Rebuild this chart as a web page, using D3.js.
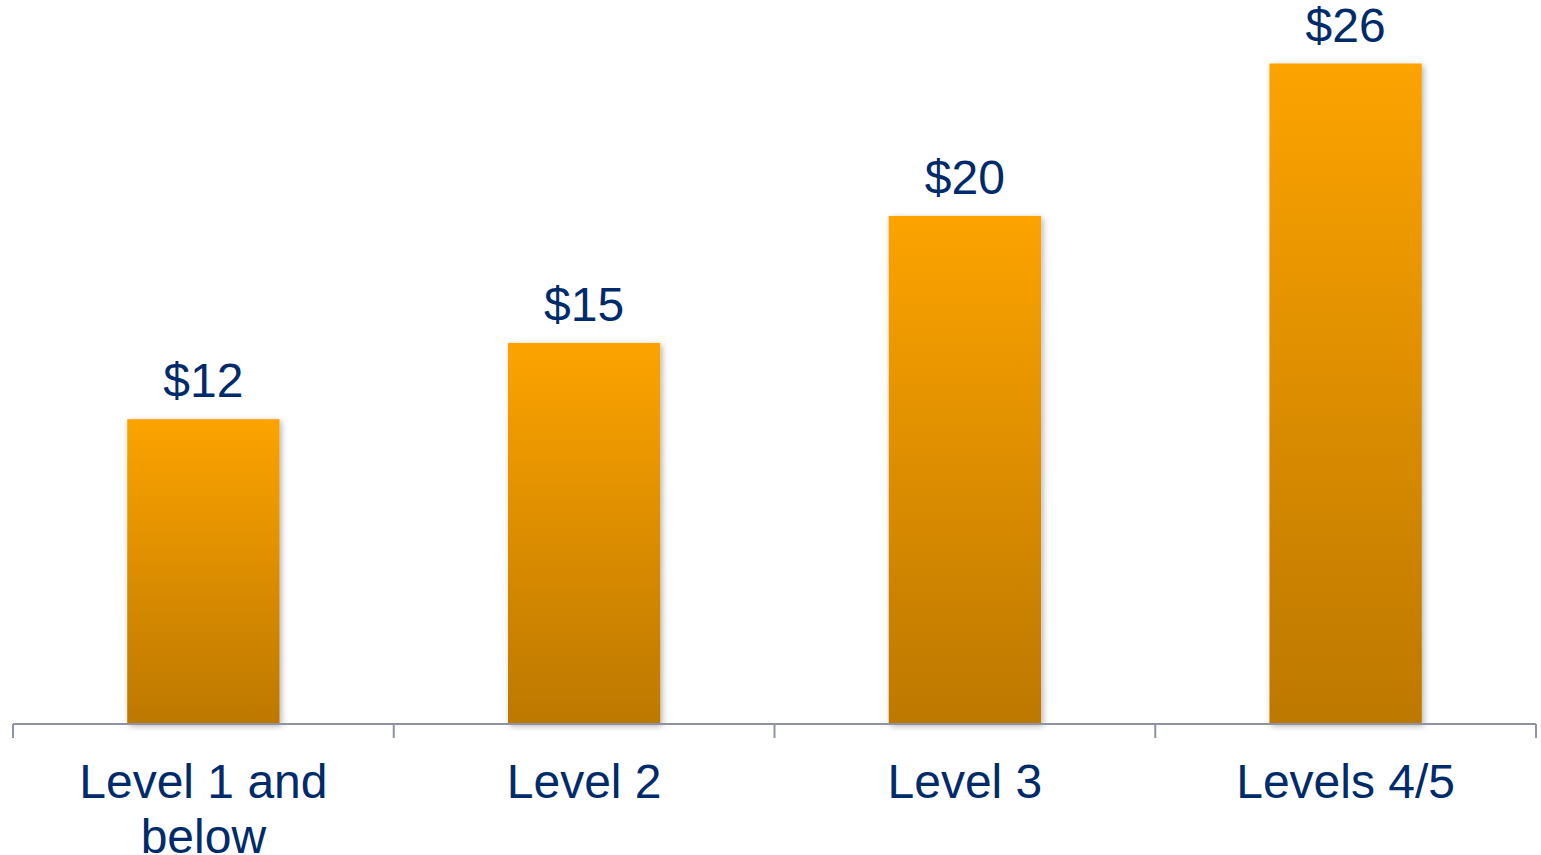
<!DOCTYPE html>
<html>
<head>
<meta charset="utf-8">
<style>
  body { margin: 0; background: #fff; }
  text { font-family: "Liberation Sans", Arial, sans-serif; fill: #002b6b; }
</style>
<script src="https://d3js.org/d3.v7.min.js"></script>
</head>
<body>
<svg width="1541" height="855"></svg>
<script>
var categories = [["Level 1 and", "below"], ["Level 2"], ["Level 3"], ["Levels 4/5"]];
var values = [12, 15, 20, 26];
var valueLabels = ["$12", "$15", "$20", "$26"];

var svg = d3.select("svg"),
    left = 13, right = 1536, base = 724;

var x = d3.scaleBand().domain(d3.range(values.length)).range([left, right])
    .paddingInner(0.6).paddingOuter(0.3);
var y = d3.scaleLinear().domain([0, 28.5]).range([base, 0]);

var defs = svg.append("defs");
var grad = defs.append("linearGradient").attr("id", "barGrad")
    .attr("x1", 0).attr("y1", 0).attr("x2", 0).attr("y2", 1);
grad.append("stop").attr("offset", "0%").attr("stop-color", "#fca300");
grad.append("stop").attr("offset", "100%").attr("stop-color", "#bd7800");

var f = defs.append("filter").attr("id", "shadow")
    .attr("x", "-20%").attr("y", "-10%").attr("width", "140%").attr("height", "120%");
f.append("feDropShadow").attr("dx", 2).attr("dy", 2).attr("stdDeviation", 3)
    .attr("flood-color", "#000").attr("flood-opacity", 0.3);

svg.selectAll(".bar")
    .data(values)
    .enter().append("rect")
    .attr("class", "bar")
    .attr("x", function(d, i) { return x(i); })
    .attr("y", function(d) { return y(d); })
    .attr("width", x.bandwidth())
    .attr("height", function(d) { return base - y(d); })
    .attr("fill", "url(#barGrad)")
    .attr("filter", "url(#shadow)");

svg.selectAll(".val")
    .data(values)
    .enter().append("text")
    .attr("class", "val")
    .attr("x", function(d, i) { return x(i) + x.bandwidth() / 2; })
    .attr("y", function(d) { return y(d) - 22; })
    .attr("text-anchor", "middle")
    .attr("font-size", "48px")
    .text(function(d, i) { return valueLabels[i]; });

// axis line with ticks at band boundaries
var step = x.step();
var edges = d3.range(values.length + 1).map(function(i) { return left + i * step; });
svg.append("line")
    .attr("x1", left).attr("x2", right).attr("y1", base).attr("y2", base)
    .attr("stroke", "#8e92a6").attr("stroke-width", 2);
svg.selectAll(".tick")
    .data(edges)
    .enter().append("line")
    .attr("x1", function(d) { return d; }).attr("x2", function(d) { return d; })
    .attr("y1", base).attr("y2", base + 14)
    .attr("stroke", "#8e92a6").attr("stroke-width", 2);

var cat = svg.selectAll(".cat")
    .data(categories)
    .enter().append("text")
    .attr("class", "cat")
    .attr("text-anchor", "middle")
    .attr("font-size", "48px")
    .attr("transform", function(d, i) { return "translate(" + (x(i) + x.bandwidth() / 2) + ",798)"; });
cat.selectAll("tspan")
    .data(function(d) { return d; })
    .enter().append("tspan")
    .attr("x", 0)
    .attr("y", function(d, j) { return j * 55; })
    .text(function(d) { return d; });
</script>
</body>
</html>
